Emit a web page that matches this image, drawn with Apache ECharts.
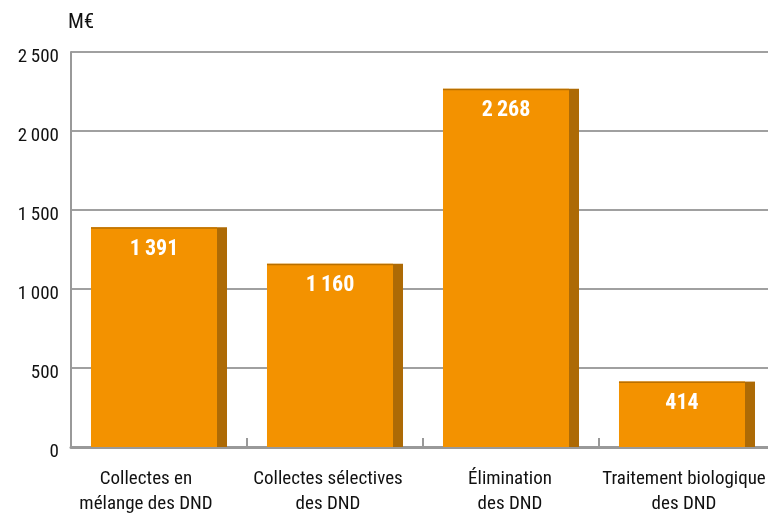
<!DOCTYPE html>
<html>
<head>
<meta charset="utf-8">
<script src="https://cdn.jsdelivr.net/npm/echarts@6/dist/echarts.min.js"></script>
<style>html,body{margin:0;padding:0;background:#fff}#c{width:768px;height:514px}</style>
</head>
<body>
<div id="c"></div>
<script>
const categories = ['Collectes en\nmélange des DND', 'Collectes sélectives\ndes DND', 'Élimination\ndes DND', 'Traitement biologique\ndes DND'];
const values = [1391, 1160, 2268, 414];
const yTicks = [0, 500, 1000, 1500, 2000, 2500];
const unitLabel = 'M€';

const FONT = "'Liberation Sans Narrow', 'Roboto Condensed', 'Liberation Sans', sans-serif";
const fmt = v => String(v).replace(/\B(?=(\d{3})+(?!\d))/g, '\u2009');
const labelShiftLeft = [26, 14, 2, 6];

const chart = echarts.init(document.getElementById('c'));
chart.setOption({
  animation: false,
  grid: { left: 71, top: 52, width: 704, height: 395, containLabel: false, outerBoundsMode: 'none' },
  graphic: [{ type: 'text', left: 68, top: 12, style: { text: unitLabel, font: '21px ' + FONT, fill: '#111' } }],
  xAxis: {
    type: 'category',
    data: categories.map((c, i) => ({ value: c, textStyle: { padding: [0, labelShiftLeft[i], 0, 0] } })),
    axisLine: { show: true, lineStyle: { color: '#999', width: 3 } },
    axisTick: { show: true, inside: true, length: 9, lineStyle: { color: '#999', width: 2 } },
    axisLabel: { color: '#111', fontSize: 19, fontFamily: FONT, lineHeight: 25, margin: 20, interval: 0 }
  },
  yAxis: {
    type: 'value', min: 0, max: 2500, interval: 500,
    axisLine: { show: true, lineStyle: { color: '#999', width: 2 } },
    axisTick: { show: false },
    axisLabel: { color: '#111', fontSize: 19, fontFamily: FONT, margin: 12, verticalAlign: 'top', lineHeight: 11, formatter: v => yTicks.includes(v) ? fmt(v) : '' },
    splitLine: { show: true, lineStyle: { color: '#a0a0a0', width: 2 } }
  },
  series: [{
    type: 'custom',
    data: values.map((v, i) => [i, v]),
    encode: { x: 0, y: 1 },
    renderItem: function (params, api) {
      const i = api.value(0), v = api.value(1);
      const top = api.coord([i, v]);
      const base = api.coord([i, 0]);
      const band = api.size([1, 0])[0];
      const frontW = band * 0.716, sideW = 10;
      const total = frontW + sideW;
      const x0 = top[0] - total / 2;
      const h = base[1] - top[1];
      return {
        type: 'group',
        children: [
          { type: 'rect', shape: { x: x0, y: top[1], width: frontW, height: h }, style: { fill: '#F39200' } },
          { type: 'rect', shape: { x: x0 + frontW, y: top[1], width: sideW, height: h }, style: { fill: '#AD6A05' } },
          { type: 'rect', shape: { x: x0, y: top[1], width: frontW, height: 1.5 }, style: { fill: '#B86F00' } },
          { type: 'text', x: x0 + frontW / 2, y: top[1] + 22,
            style: { text: fmt(v), fill: '#fff', font: 'bold 22px ' + FONT, align: 'center', verticalAlign: 'middle' } }
        ]
      };
    }
  }]
});
</script>
</body>
</html>
